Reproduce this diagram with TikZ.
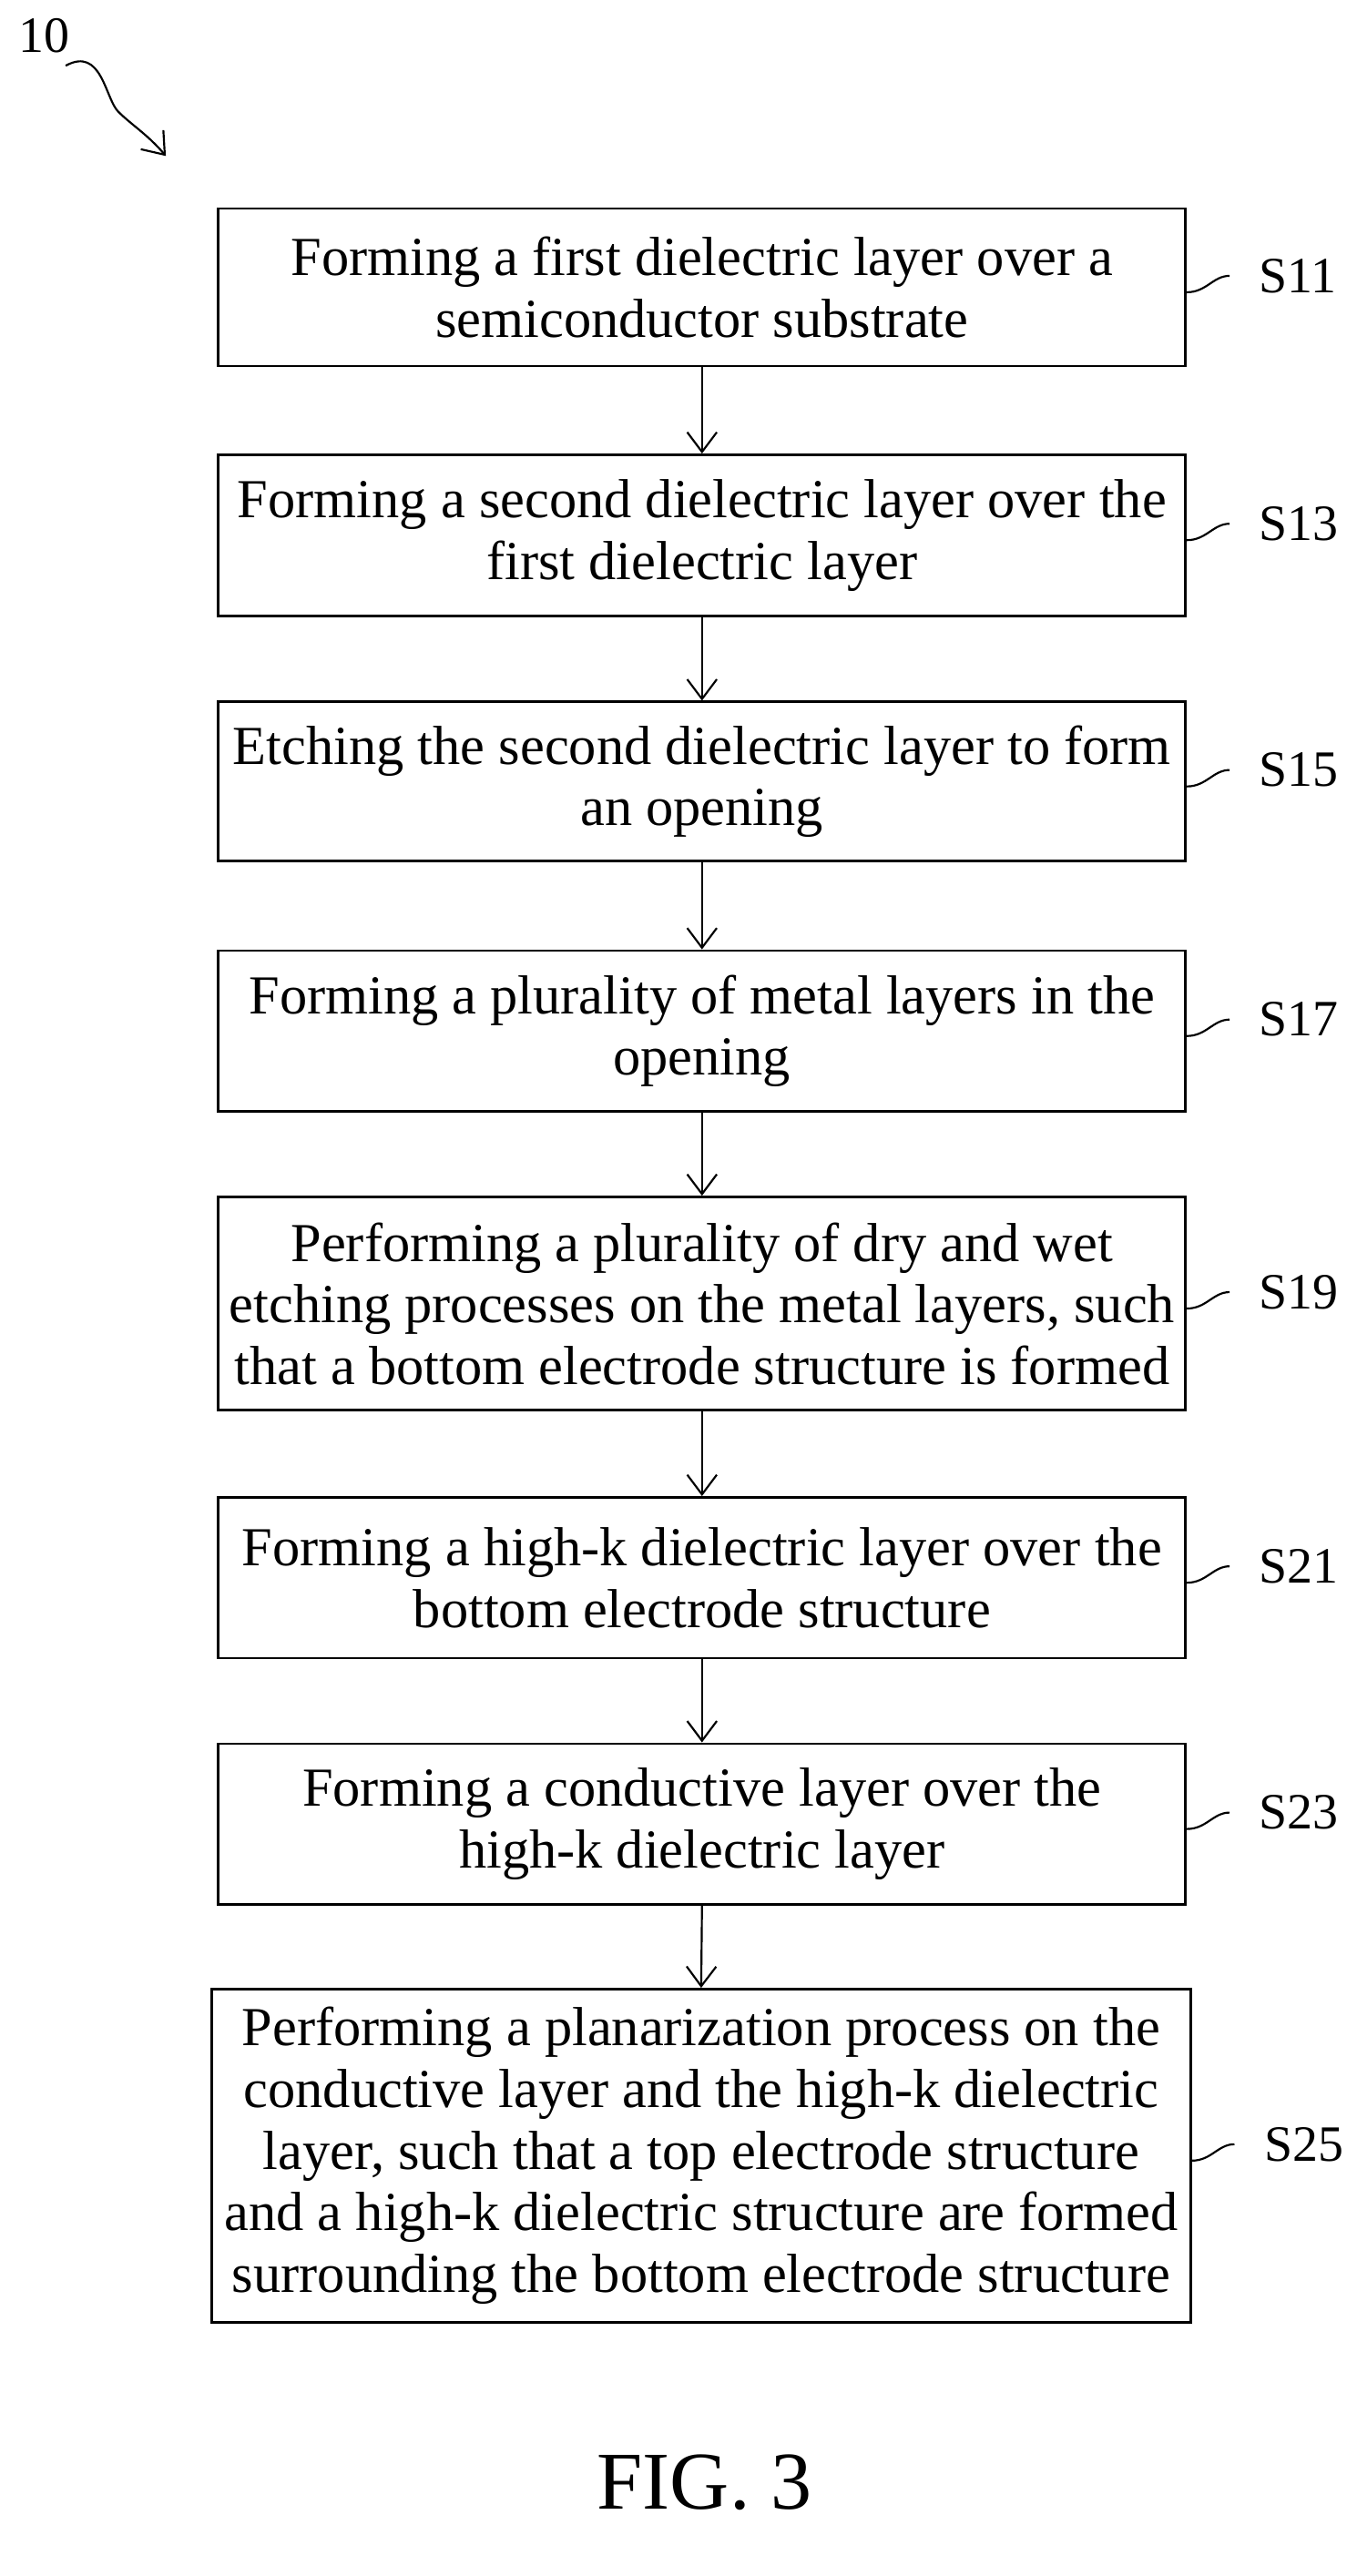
\documentclass[tikz,border=0pt]{standalone}
\usepackage{fontspec}
\setmainfont{Liberation Serif}
\usetikzlibrary{arrows.meta,positioning}
\tikzset{
  procbox/.style={draw, line width=1.5pt, align=center, font=\fontsize{33.5}{37.5}\selectfont, inner sep=0pt},
  flow/.style={-{Straight Barb[length=12pt,width=18pt]}, line width=1.2pt},
  tag/.style={font=\fontsize{31}{32}\selectfont, anchor=west, inner sep=0pt}
}
\begin{document}
\begin{tikzpicture}[x=1pt, y=-1pt]
\useasboundingbox (0,0) rectangle (826,1569);
% steps
\node[procbox, minimum width=589pt, minimum height=96pt] (s11) at (427.5,175) {Forming a first dielectric layer over a\\semiconductor substrate};
\node[procbox, minimum width=589pt, minimum height=98pt] (s13) at (427.5,326) {Forming a second dielectric layer over the\\first dielectric layer};
\node[procbox, minimum width=589pt, minimum height=97pt] (s15) at (427.5,476) {Etching the second dielectric layer to form\\an opening};
\node[procbox, minimum width=589pt, minimum height=98pt] (s17) at (427.5,628) {Forming a plurality of metal layers in the\\opening};
\node[procbox, minimum width=589pt, minimum height=130pt] (s19) at (427.5,794) {Performing a plurality of dry and wet\\etching processes on the metal layers, such\\that a bottom electrode structure is formed};
\node[procbox, minimum width=589pt, minimum height=98pt] (s21) at (427.5,961) {Forming a high-k dielectric layer over the\\bottom electrode structure};
\node[procbox, minimum width=589pt, minimum height=98pt] (s23) at (427.5,1111) {Forming a conductive layer over the\\high-k dielectric layer};
\node[procbox, minimum width=596pt, minimum height=203pt] (s25) at (427,1313) {Performing a planarization process on the\\conductive layer and the high-k dielectric\\layer, such that a top electrode structure\\and a high-k dielectric structure are formed\\surrounding the bottom electrode structure};
% arrows
\foreach \a/\b in {s11/s13,s13/s15,s15/s17,s17/s19,s19/s21,s21/s23,s23/s25}
  \draw[flow] (\a.south) -- (\b.north);
% labels
\foreach \n/\t in {s11/S11,s13/S13,s15/S15,s17/S17,s19/S19,s21/S21,s23/S23,s25/S25} {
  \draw[line width=1.2pt] (\n.east) ++(0,3) .. controls +(12,0) and +(-10,0) .. ++(26,-10) coordinate (\n t);
  \node[tag] (\n l) at ([xshift=18pt]\n t) {\t};
}
\node[font=\fontsize{31}{32}\selectfont] (num) at (27,22) {10};
\coordinate (tip) at (101,95);
\draw[flow] (40,40) .. controls (62,28) and (64,60) .. (72,68) .. controls (80,76) and (90,82) .. (tip);
\node[font=\fontsize{50}{52}\selectfont] (fig) at (429,1512) {FIG. 3};
\end{tikzpicture}
\end{document}
